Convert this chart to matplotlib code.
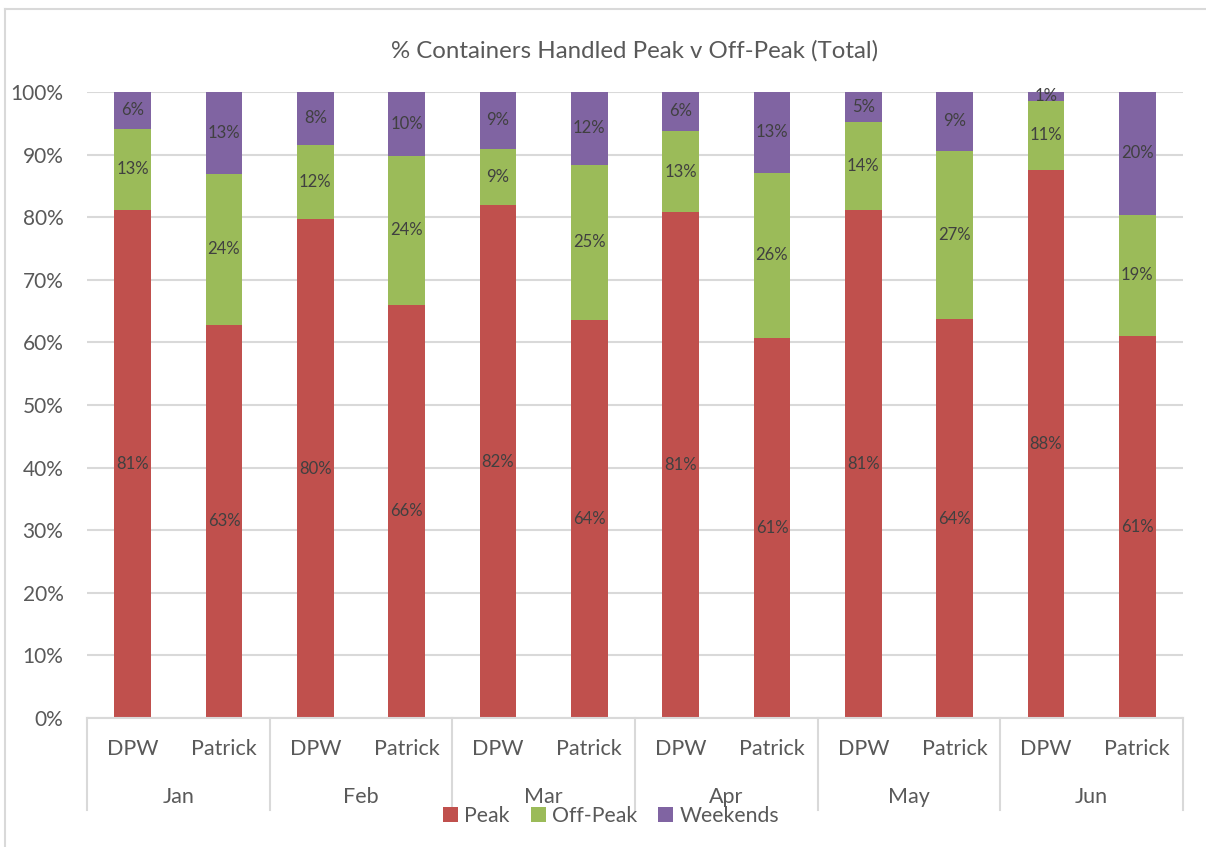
import numpy as np
import matplotlib.pyplot as plt
import matplotlib.transforms as mtransforms
from matplotlib.lines import Line2D

plt.rcParams['font.family'] = ['Lato', 'DejaVu Sans']

months = ['Jan', 'Feb', 'Mar', 'Apr', 'May', 'Jun']
terminals = ['DPW', 'Patrick']

# values in %, order: Jan DPW, Jan Patrick, Feb DPW, ...
peak = [81.2, 62.8, 79.7, 66.0, 81.9, 63.6, 80.8, 60.7, 81.2, 63.7, 87.6, 61.0]
off_peak = [12.9, 24.1, 11.9, 23.8, 9.0, 24.8, 13.0, 26.4, 14.0, 26.9, 11.0, 19.4]
weekends = [5.9, 13.1, 8.4, 10.2, 9.1, 11.6, 6.2, 12.9, 4.8, 9.4, 1.4, 19.6]

series = [('Peak', peak, '#C0504D'),
          ('Off-Peak', off_peak, '#9BBB59'),
          ('Weekends', weekends, '#8064A2')]

text_col = '#595959'
label_col = '#404040'

fig = plt.figure(figsize=(12.06, 8.47), dpi=100)
ax = fig.add_axes([87 / 1206, 1 - 718 / 847, 1096 / 1206, 626 / 847])

x = np.arange(len(peak))
bottom = np.zeros(len(peak))
for name, vals, col in series:
    vals = np.array(vals)
    ax.bar(x, vals, bottom=bottom, width=0.405, color=col, label=name, zorder=2)
    for xi, b, v in zip(x, bottom, vals):
        ax.text(xi, b + v / 2, f'{v:.0f}%', ha='center', va='center',
                fontsize=12, color=label_col, zorder=3)
    bottom += vals

ax.set_xlim(-0.5, len(peak) - 0.5)
ax.set_ylim(0, 100)
ax.set_yticks(np.arange(0, 101, 10))
ax.set_yticklabels([f'{v}%' for v in range(0, 101, 10)])
ax.yaxis.grid(True, color='#D9D9D9', linewidth=1.5, zorder=0)
ax.tick_params(axis='y', length=0, pad=17, labelsize=15, labelcolor=text_col)
ax.set_xticks([])
for s in ['top', 'right', 'left']:
    ax.spines[s].set_visible(False)
ax.spines['bottom'].set_color('#D9D9D9')
ax.spines['bottom'].set_linewidth(1.5)

# two-level category axis
trans = mtransforms.blended_transform_factory(ax.transData, ax.transAxes)
for xi in x:
    ax.text(xi, -0.0495, terminals[xi % 2], transform=trans, ha='center',
            va='center', fontsize=15.5, color=text_col)
for i, m in enumerate(months):
    ax.text(2 * i + 0.5, -0.126, m, transform=trans, ha='center',
            va='center', fontsize=15.5, color=text_col)
for b in np.arange(-0.5, len(peak), 2):
    ax.add_line(Line2D([b, b], [0, -0.147], transform=trans, color='#D9D9D9',
                       linewidth=1.5, clip_on=False))

ax.set_title('% Containers Handled Peak v Off-Peak (Total)', fontsize=17.3,
             color=text_col, pad=25)

leg = fig.legend(loc='center', bbox_to_anchor=(611 / 1206, 1 - 816 / 847),
                 ncol=3, frameon=False, fontsize=15.3, handlelength=0.7,
                 handleheight=0.7, handletextpad=0.3, columnspacing=1.0,
                 labelcolor=text_col)

# chart frame
fig.add_artist(Line2D([5 / 1206, 5 / 1206], [0, 1 - 9 / 847],
                      transform=fig.transFigure, color='#D9D9D9', linewidth=1.5))
fig.add_artist(Line2D([5 / 1206, 1], [1 - 9 / 847, 1 - 9 / 847],
                      transform=fig.transFigure, color='#D9D9D9', linewidth=1.5))

fig.savefig('out.png', dpi=100, facecolor='white')
